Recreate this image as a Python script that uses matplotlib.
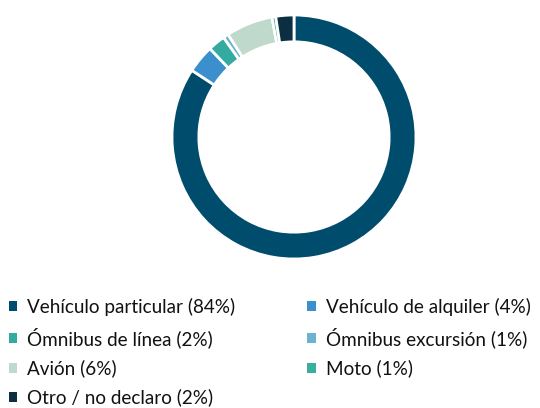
import matplotlib
matplotlib.use("Agg")
import matplotlib.pyplot as plt
from matplotlib.patches import Patch

categories = ["Vehículo particular (84%)", "Vehículo de alquiler (4%)",
              "Ómnibus de línea (2%)", "Ómnibus excursión (1%)",
              "Avión (6%)", "Moto (1%)", "Otro / no declaro (2%)"]
values = [84.2, 3.7, 2.3, 0.7, 6.2, 0.5, 2.4]
colors = ["#004C6D", "#3A8FCC", "#34ABA0", "#6BB3CF", "#BFD9CC", "#3AAFA0", "#0B2E40"]

plt.rcParams['font.family'] = ['Lato', 'DejaVu Sans']

fig = plt.figure(figsize=(5.4, 4.08), dpi=100)
W, H = 540, 408
cx, cy, R = 294, 137, 122
ax = fig.add_axes([(cx - R) / W, (H - cy - R) / H, 2 * R / W, 2 * R / H])
ax.pie(values, colors=colors, startangle=90, counterclock=False, radius=1,
       wedgeprops=dict(width=0.22, edgecolor="white", linewidth=2))
ax.set_xlim(-1, 1)
ax.set_ylim(-1, 1)
ax.axis("off")

handles = [Patch(facecolor=c, edgecolor="none") for c in colors]
order = [0, 2, 4, 6, 1, 3, 5]
fs = 13.6
fig.legend([handles[i] for i in order], [categories[i] for i in order],
           ncol=2, loc="upper left", bbox_to_anchor=(7 / W, 1 - 296 / H),
           frameon=False, fontsize=fs, handlelength=0.45, handleheight=0.45,
           handletextpad=0.52, columnspacing=3.82, labelspacing=0.6,
           borderaxespad=0, borderpad=0.1, labelcolor="#111111")

fig.savefig("out.png", dpi=100, facecolor="white")
